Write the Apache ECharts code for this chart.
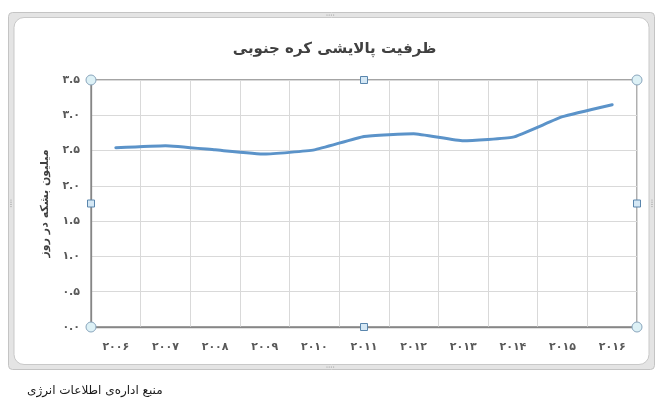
<!DOCTYPE html>
<html>
<head>
<meta charset="utf-8">
<script src="https://cdn.jsdelivr.net/npm/echarts@6/dist/echarts.min.js"></script>
<style>
html,body{margin:0;padding:0;background:#fff;}
#c{width:669px;height:415px;}
</style>
</head>
<body>
<div id="c"></div>
<script>
var years = ['۲۰۰۶','۲۰۰۷','۲۰۰۸','۲۰۰۹','۲۰۱۰','۲۰۱۱','۲۰۱۲','۲۰۱۳','۲۰۱۴','۲۰۱۵','۲۰۱۶'];
var capacity = [2.54, 2.57, 2.51, 2.45, 2.51, 2.70, 2.74, 2.64, 2.69, 2.98, 3.15];
var titleText = 'ظرفیت پالایشی کره جنوبی';
var yName = 'میلیون بشکه در روز';
var sourceText = 'منبع اداره‌ی اطلاعات انرژی';

var fa = '۰۱۲۳۴۵۶۷۸۹';
function toFa(s){ return String(s).replace(/[0-9]/g, function(d){ return fa[+d]; }); }

var G = {left:91, right:637, top:80, bottom:327};
var font = 'DejaVu Sans';

function circ(x,y){ return {type:'circle', z:100, shape:{cx:x,cy:y,r:5}, style:{fill:'#ddf1f6', stroke:'#8aa6bd', lineWidth:1}}; }
function sq(x,y){ return {type:'rect', z:100, shape:{x:x-3.5,y:y-3.5,width:7,height:7}, style:{fill:'#d5e8f5', stroke:'#5a86ad', lineWidth:1}}; }
function dots(x,y,vertical){
  var arr=[];
  for(var i=0;i<4;i++){
    arr.push({type:'circle', z:-5, shape:{cx: vertical? x : x+i*2.2, cy: vertical? y+i*2.2 : y, r:0.6}, style:{fill:'#9a9a9a'}});
  }
  return arr;
}
var midX = (G.left+G.right)/2, midY = (G.top+G.bottom)/2;
var graphics = [
  {type:'rect', z:-10, shape:{x:8.5,y:12.5,width:646,height:357,r:4}, style:{fill:'#e4e4e4', stroke:'#c4c4c4', lineWidth:1}},
  {type:'rect', z:-9, shape:{x:14,y:17.5,width:635,height:347,r:10}, style:{fill:'#ffffff', stroke:'#c9c9c9', lineWidth:1}},
  circ(G.left,G.top), circ(G.right,G.top), circ(G.left,G.bottom), circ(G.right,G.bottom),
  sq(midX,G.top), sq(midX,G.bottom), sq(G.left,midY), sq(G.right,midY),
  {type:'text', left:27, top:385, style:{text:sourceText, font:'12px "DejaVu Sans"', fill:'#1a1a1a'}}
].concat(dots(327,15,false), dots(327,367,false), dots(11,200,true), dots(652,200,true));

var chart = echarts.init(document.getElementById('c'));
chart.setOption({
  animation:false,
  backgroundColor:'#fff',
  title:{text:titleText, left:'center', top:37, textStyle:{fontFamily:font, fontSize:15, fontWeight:'bold', color:'#404040'}},
  grid:{left:G.left, right:669-G.right, top:G.top, bottom:415-G.bottom, show:true, borderColor:'#868686', borderWidth:1.3, containLabel:false},
  xAxis:{
    type:'category', data:years, boundaryGap:true,
    axisLine:{show:true, lineStyle:{color:'#868686', width:1.3}},
    axisTick:{show:false},
    splitLine:{show:true, lineStyle:{color:'#d9d9d9', width:1}},
    axisLabel:{margin:15, fontFamily:font, fontSize:11, fontWeight:'bold', color:'#595959'}
  },
  yAxis:{
    type:'value', min:0, max:3.5, interval:0.5,
    name:yName, nameLocation:'middle', nameRotate:90, nameGap:40,
    nameTextStyle:{fontFamily:font, fontSize:11, fontWeight:'bold', color:'#404040'},
    axisLine:{show:true, lineStyle:{color:'#868686', width:1.3}},
    axisTick:{show:false},
    splitLine:{show:true, lineStyle:{color:'#d9d9d9', width:1}},
    axisLabel:{margin:11, fontFamily:font, fontSize:11, fontWeight:'bold', color:'#595959',
      formatter:function(v){ return toFa(v.toFixed(1)); }}
  },
  series:[{
    type:'line', data:capacity, smooth:0.12, symbol:'none',
    lineStyle:{color:'#5b93c9', width:3, cap:'round', join:'round'}
  }],
  graphic:graphics
});
</script>
</body>
</html>
